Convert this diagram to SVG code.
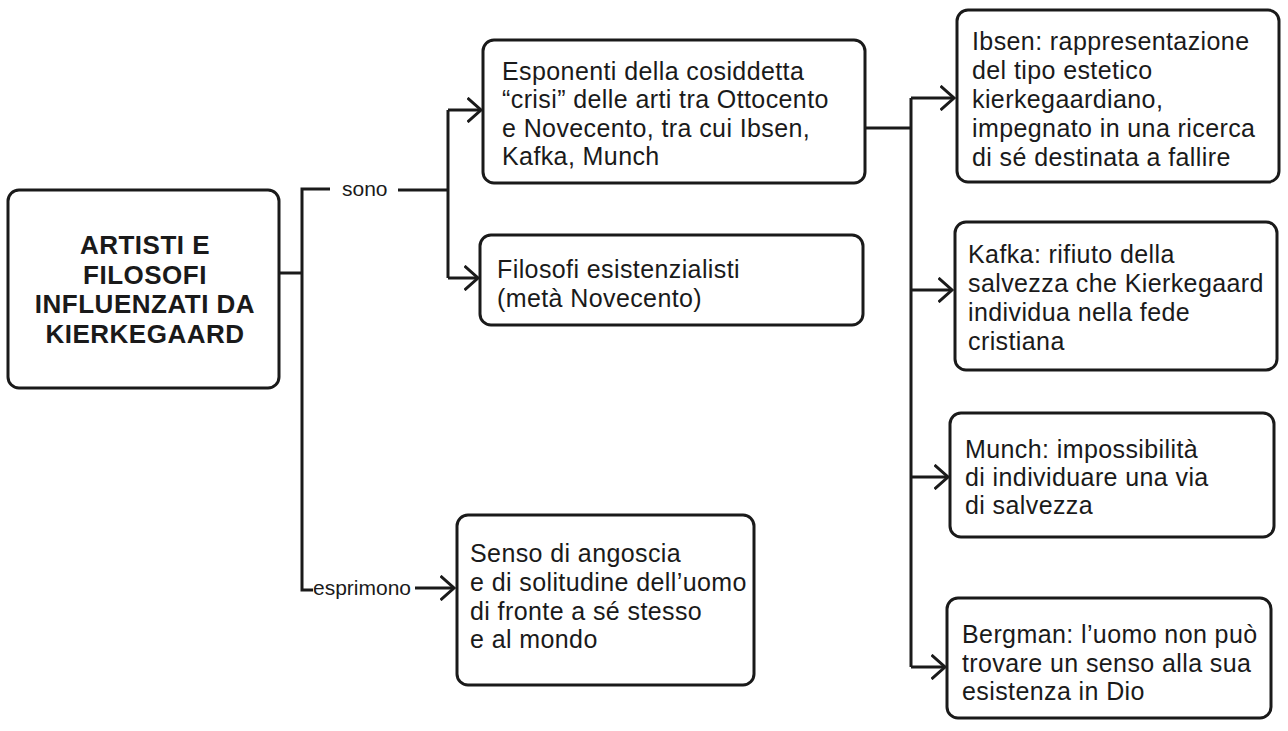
<svg xmlns="http://www.w3.org/2000/svg" width="1288" height="731" viewBox="0 0 1288 731">
<style>
.box{fill:#fff;stroke:#1a1a1a;stroke-width:3}
.t{font-family:"Liberation Sans",Arial,sans-serif;font-size:25px;letter-spacing:0.4px;fill:#1a1a1a}
.title{font-family:"Liberation Sans",Arial,sans-serif;font-size:26px;font-weight:bold;letter-spacing:0.5px;fill:#1a1a1a;text-anchor:middle}
.lbl{font-family:"Liberation Sans",Arial,sans-serif;font-size:21px;fill:#1a1a1a}
.c{fill:none;stroke:#1a1a1a;stroke-width:3}
</style>
<defs>
<marker id="arr" viewBox="0 0 16 26" refX="14.5" refY="13" markerWidth="16" markerHeight="26" markerUnits="userSpaceOnUse" orient="auto">
<path d="M1,1 L14.5,13 L1,25" fill="none" stroke="#1a1a1a" stroke-width="3"/>
</marker>
</defs>
<rect width="1288" height="731" fill="#fff"/>
<g id="connectors">
<path class="c" d="M279,273 H302"/>
<path class="c" d="M330,189 H302 V590 H313"/>
<path class="c" d="M398,190 H448"/>
<path class="c" d="M448,110 V278"/>
<path class="c" d="M448,110 H481" marker-end="url(#arr)"/>
<path class="c" d="M448,278 H478" marker-end="url(#arr)"/>
<path class="c" d="M415,588 H454" marker-end="url(#arr)"/>
<path class="c" d="M865,128 H911"/>
<path class="c" d="M911,98 V667"/>
<path class="c" d="M911,98 H954" marker-end="url(#arr)"/>
<path class="c" d="M911,290 H952" marker-end="url(#arr)"/>
<path class="c" d="M911,477 H948" marker-end="url(#arr)"/>
<path class="c" d="M911,667 H945" marker-end="url(#arr)"/>
<text class="lbl" x="342" y="196">sono</text>
<text class="lbl" x="313" y="595">esprimono</text>
</g>
<g id="main">
<rect class="box" x="8" y="190" width="271" height="198" rx="11"/>
<text class="title" x="145" y="254">ARTISTI E</text>
<text class="title" x="145" y="283.5">FILOSOFI</text>
<text class="title" x="145" y="313">INFLUENZATI DA</text>
<text class="title" x="145" y="342.5">KIERKEGAARD</text>
</g>
<g id="esponenti">
<rect class="box" x="483" y="40" width="382" height="143" rx="11"/>
<text class="t" x="502" y="80">Esponenti della cosiddetta</text>
<text class="t" x="502" y="108">“crisi” delle arti tra Ottocento</text>
<text class="t" x="502" y="137">e Novecento, tra cui Ibsen,</text>
<text class="t" x="502" y="165">Kafka, Munch</text>
</g>
<g id="filosofi">
<rect class="box" x="480" y="235" width="383" height="90" rx="11"/>
<text class="t" x="497" y="278">Filosofi esistenzialisti</text>
<text class="t" x="497" y="307">(metà Novecento)</text>
</g>
<g id="senso">
<rect class="box" x="457" y="515" width="297" height="170" rx="11"/>
<text class="t" x="470" y="562">Senso di angoscia</text>
<text class="t" x="470" y="591">e di solitudine dell’uomo</text>
<text class="t" x="470" y="620">di fronte a sé stesso</text>
<text class="t" x="470" y="648">e al mondo</text>
</g>
<g id="ibsen">
<rect class="box" x="957" y="10" width="322" height="172" rx="11"/>
<text class="t" x="972" y="50">Ibsen: rappresentazione</text>
<text class="t" x="972" y="79">del tipo estetico</text>
<text class="t" x="972" y="108">kierkegaardiano,</text>
<text class="t" x="972" y="137">impegnato in una ricerca</text>
<text class="t" x="972" y="166">di sé destinata a fallire</text>
</g>
<g id="kafka">
<rect class="box" x="955" y="222" width="322" height="148" rx="11"/>
<text class="t" x="968" y="263">Kafka: rifiuto della</text>
<text class="t" x="968" y="292">salvezza che Kierkegaard</text>
<text class="t" x="968" y="321">individua nella fede</text>
<text class="t" x="968" y="350">cristiana</text>
</g>
<g id="munch">
<rect class="box" x="950" y="413" width="324" height="124" rx="11"/>
<text class="t" x="965" y="458">Munch: impossibilità</text>
<text class="t" x="965" y="486">di individuare una via</text>
<text class="t" x="965" y="514">di salvezza</text>
</g>
<g id="bergman">
<rect class="box" x="947" y="598" width="324" height="120" rx="11"/>
<text class="t" x="962" y="643">Bergman: l’uomo non può</text>
<text class="t" x="962" y="672">trovare un senso alla sua</text>
<text class="t" x="962" y="700">esistenza in Dio</text>
</g>
</svg>
